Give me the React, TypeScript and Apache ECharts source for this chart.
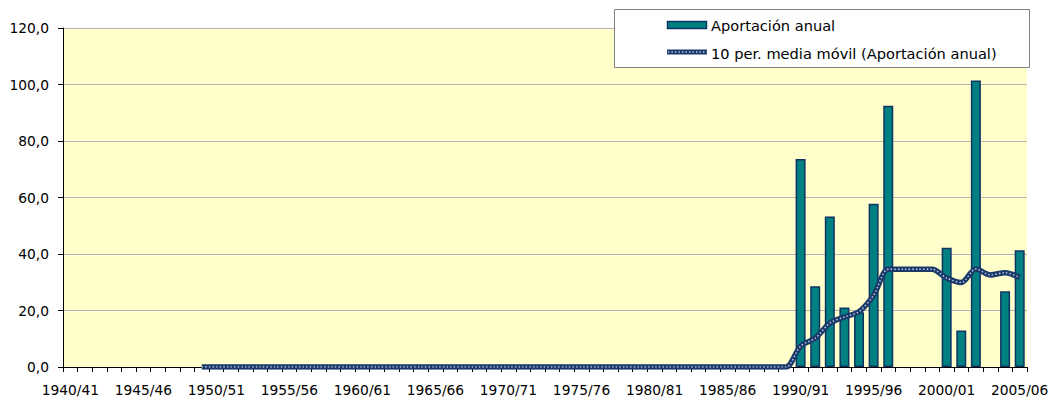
import React, { useEffect, useRef } from "react";
import * as echarts from "echarts";

const years: string[] = [];
for (let y = 1940; y <= 2005; y++) {
  years.push(`${y}/${String((y + 1) % 100).padStart(2, "0")}`);
}

const yTicks = [0, 20, 40, 60, 80, 100, 120];

// Aportación anual (hm³) — 1940/41 .. 2005/06
const aportacion: (number | null)[] = [
  0, 0, 0, 0, 0, 0, 0, 0, 0, 0,
  0, 0, 0, 0, 0, 0, 0, 0, 0, 0,
  0, 0, 0, 0, 0, 0, 0, 0, 0, 0,
  0, 0, 0, 0, 0, 0, 0, 0, 0, 0,
  0, 0, 0, 0, 0, 0, 0, 0, 0, 0,
  73.6, 28.6, 53.3, 21.1, 19.4, 57.8, 92.5, 0, 0, 0,
  42.2, 12.9, 101.4, 0, 26.8, 41.3,
];

// 10 per. media móvil
const mediaMovil: (number | null)[] = [
  null, null, null, null, null, null, null, null, null, 0,
  0, 0, 0, 0, 0, 0, 0, 0, 0, 0,
  0, 0, 0, 0, 0, 0, 0, 0, 0, 0,
  0, 0, 0, 0, 0, 0, 0, 0, 0, 0,
  0, 0, 0, 0, 0, 0, 0, 0, 0, 0,
  7.4, 10.2, 15.5, 17.7, 19.6, 25.4, 34.6, 34.6, 34.6, 34.6,
  31.5, 29.9, 34.7, 32.6, 33.4, 31.7,
];

const legendNames = ["Aportación anual", "10 per. media móvil (Aportación anual)"];

const FONT = "DejaVu Sans";
const NAVY = "#1b3a6b";
const BORDER = "#0f3463";
const TEAL = "#008080";
const DOT = "#c8d4e8";

export default function App() {
  const ref = useRef<HTMLDivElement>(null);
  useEffect(() => {
    if (!ref.current) return;
    const chart = echarts.init(ref.current, null, { renderer: "svg" });
    chart.setOption({
      animation: false,
      textStyle: { fontFamily: FONT },
      grid: { left: 63, right: 29, top: 28, bottom: 38, backgroundColor: "#FFFFCC", show: true, borderWidth: 0 },
      graphic: [
        {
          type: "rect",
          shape: { x: 614.5, y: 9.5, width: 415, height: 58 },
          style: { fill: "#ffffff", stroke: "#808080", lineWidth: 1 },
          z: 10,
        },
        {
          type: "rect",
          shape: { x: 667.5, y: 21.5, width: 39, height: 7 },
          style: { fill: TEAL, stroke: BORDER, lineWidth: 1.5 },
          z: 11,
        },
        {
          type: "line",
          shape: { x1: 667, y1: 52, x2: 707, y2: 52 },
          style: { stroke: NAVY, lineWidth: 5 },
          z: 11,
        },
        {
          type: "line",
          shape: { x1: 668, y1: 52, x2: 707, y2: 52 },
          style: { stroke: DOT, lineWidth: 1.3, lineDash: [1.3, 2.2] },
          z: 12,
        },
        {
          type: "text",
          x: 711,
          y: 25,
          style: { text: legendNames[0], font: `14.6px "${FONT}"`, fill: "#000", verticalAlign: "middle", align: "left" },
          z: 12,
        },
        {
          type: "text",
          x: 711,
          y: 53,
          style: { text: legendNames[1], font: `14.6px "${FONT}"`, fill: "#000", verticalAlign: "middle", align: "left" },
          z: 12,
        },
      ],
      xAxis: {
        type: "category",
        data: years,
        boundaryGap: true,
        axisLine: { lineStyle: { color: "#000", width: 1 } },
        axisTick: { show: true, interval: 0, length: 5, lineStyle: { color: "#000" } },
        axisLabel: { interval: 4, margin: 16, fontSize: 13.8, color: "#000", fontFamily: FONT },
        splitLine: { show: false },
      },
      yAxis: {
        type: "value",
        min: 0,
        max: 120,
        interval: 20,
        axisLine: { show: true, lineStyle: { color: "#000", width: 1 } },
        axisTick: { show: true, length: 5, lineStyle: { color: "#000" } },
        axisLabel: {
          margin: 14,
          fontSize: 13.8,
          color: "#000",
          fontFamily: FONT,
          formatter: (v: number) => (yTicks.includes(v) ? v.toFixed(1).replace(".", ",") : ""),
        },
        splitLine: { show: true, lineStyle: { color: "#b4b4b4", width: 1 } },
      },
      series: [
        {
          name: legendNames[0],
          type: "bar",
          data: aportacion.map((v) => (v === 0 ? null : v)),
          barWidth: 10,
          itemStyle: { color: TEAL, borderColor: BORDER, borderWidth: 1.5 },
          z: 2,
        },
        {
          name: legendNames[1],
          type: "line",
          data: mediaMovil,
          symbol: "none",
          smooth: 0.3,
          lineStyle: { color: NAVY, width: 5.5 },
          itemStyle: { color: NAVY },
          z: 3,
        },
        {
          name: "mm-dots",
          type: "line",
          data: mediaMovil,
          symbol: "none",
          smooth: 0.3,
          lineStyle: { color: DOT, width: 1.4, type: [1.4, 2.2] },
          z: 4,
          silent: true,
        },
      ],
    });
    return () => chart.dispose();
  }, []);
  return (
    <div
      ref={ref}
      style={{ position: "fixed", left: 0, top: 0, width: 1056, height: 405, background: "#fff" }}
    />
  );
}
